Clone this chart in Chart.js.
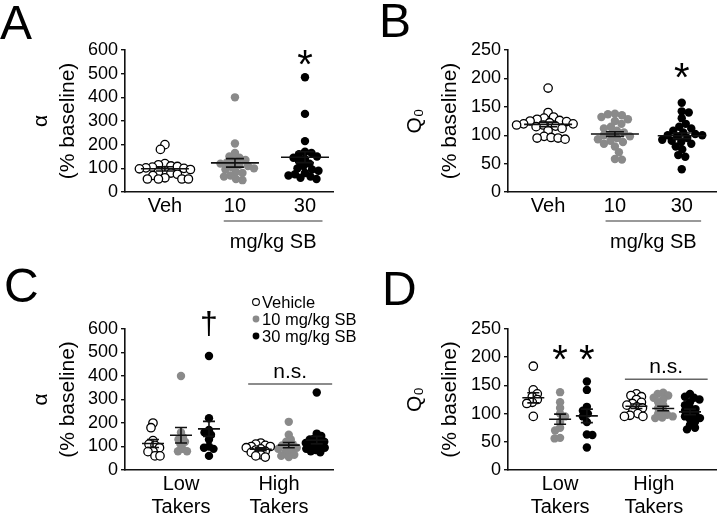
<!DOCTYPE html>
<html><head><meta charset="utf-8">
<script src="https://cdn.jsdelivr.net/npm/chart.js@4.4.1/dist/chart.umd.min.js"></script>
<style>
html,body{margin:0;padding:0;background:#fff;}
#wrap{position:relative;width:722px;height:516px;overflow:hidden;font-family:"Liberation Sans",Arial,sans-serif;}
canvas{position:absolute;}
.letter{position:absolute;font-size:48px;line-height:48px;white-space:nowrap;color:#000;}
</style></head><body>
<div id="wrap">
<canvas id="cA" width="361" height="258" style="left:0;top:0"></canvas>
<canvas id="cB" width="361" height="258" style="left:361px;top:0"></canvas>
<canvas id="cC" width="361" height="258" style="left:0;top:258px"></canvas>
<canvas id="cD" width="361" height="258" style="left:361px;top:258px"></canvas>
<div class="letter" style="left:0;top:-1px">A</div>
<div class="letter" style="left:379px;top:-3px">B</div>
<div class="letter" style="left:4px;top:262px">C</div>
<div class="letter" style="left:382px;top:265px">D</div>
</div>
<script>
const FONT = '"Liberation Sans", Arial, sans-serif';

// ---- labels ----
const doseLabels = ['Veh', '10', '30'];
const takerLabels = [['Low', 'Takers'], ['High', 'Takers']];
const legendLabels = ['Vehicle', '10 mg/kg SB', '30 mg/kg SB'];
const doseUnitLabel = 'mg/kg SB';
const alphaTitle = ['\u03B1', '(% baseline)'];
const q0Title = ['Q\u2080', '(% baseline)'];

// ---- Panel A: alpha, all rats (% baseline) ----
const alphaVeh = [200, 180, 120, 115, 110, 108, 105, 102, 100, 98, 95, 90, 85, 80, 75, 70, 60, 55, 55, 55, 55];
const alpha10  = [400, 205, 165, 150, 145, 135, 130, 125, 120, 115, 110, 105, 100, 95, 85, 80, 70, 65, 55, 50];
const alpha30  = [485, 330, 215, 170, 165, 160, 150, 145, 140, 130, 120, 110, 100, 95, 90, 80, 75, 70, 65, 60, 55];
const alphaMeans = [98, 123, 147];
const alphaSems  = [9, 18, 23];

// ---- Panel B: Q0, all rats ----
const q0Veh = [183, 140, 132, 130, 128, 126, 125, 124, 122, 120, 120, 118, 118, 116, 115, 112, 108, 98, 96, 95, 95, 93];
const q010  = [138, 137, 135, 132, 128, 125, 120, 115, 112, 108, 105, 102, 100, 98, 95, 93, 90, 88, 85, 80, 70, 58, 57];
const q030  = [157, 142, 140, 130, 120, 115, 112, 108, 105, 102, 100, 100, 98, 95, 92, 90, 88, 85, 80, 75, 65, 62, 40];
const q0Means = [119, 102, 99];
const q0Sems  = [4, 4, 5];

// ---- Panel C: alpha by taker group ----
const alphaLowVeh  = [200, 180, 125, 110, 105, 95, 80, 78, 60, 60];
const alphaLow10   = [400, 160, 140, 130, 120, 110, 90, 80, 80];
const alphaLow30   = [485, 220, 170, 160, 150, 130, 100, 95, 90, 60];
const alphaHighVeh = [115, 110, 105, 100, 100, 95, 90, 85, 80, 75, 65, 60, 55];
const alphaHigh10  = [205, 150, 130, 120, 110, 105, 100, 95, 90, 80, 75, 65, 60, 55];
const alphaHigh30  = [330, 155, 145, 135, 130, 125, 120, 115, 110, 105, 100, 95, 90, 85, 80, 75];
const alphaLowMeans  = [113, 148, 175];
const alphaLowSems   = [17, 33, 32];
const alphaHighMeans = [88, 106, 127];
const alphaHighSems  = [6, 11, 16];

// ---- Panel D: Q0 by taker group ----
const q0LowVeh  = [184, 142, 135, 130, 125, 120, 118, 95];
const q0Low10   = [138, 120, 110, 100, 95, 85, 75, 70, 57, 56];
const q0Low30   = [157, 142, 112, 105, 100, 95, 85, 63, 62, 40];
const q0HighVeh = [135, 132, 130, 125, 120, 118, 115, 112, 110, 105, 100, 97, 95, 95];
const q0High10  = [137, 135, 132, 128, 125, 120, 115, 110, 105, 100, 98, 95, 93, 92];
const q0High30  = [135, 130, 128, 125, 120, 115, 110, 108, 105, 100, 98, 95, 92, 90, 85, 80, 75, 72];
const q0LowMeans  = [128, 90, 96];
const q0LowSems   = [9, 9, 12];
const q0HighMeans = [113, 109, 103];
const q0HighSems  = [4, 4, 5];

// ---- styles ----
const GRAY = '#8a8a8a';
const doseStyles = [
  {bg: '#ffffff', border: '#000000', bw: 1.3},
  {bg: GRAY, border: GRAY, bw: 0},
  {bg: '#000000', border: '#000000', bw: 0}
];

function groupsFrom(valueSets, means, sems, positions) {
  return valueSets.map((v, i) => ({values: v, dose: i % 3, mean: means[i], sem: sems[i], pos: positions[i]}));
}

function swarm(chart, groups, diam) {
  const xs = chart.scales.x, ys = chart.scales.y;
  const ppu = xs.getPixelForValue(1) - xs.getPixelForValue(0);
  groups.forEach((g, gi) => {
    const order = g.values.map((v, i) => i).sort((a, b) => g.values[b] - g.values[a]);
    const placed = [];
    const offs = new Array(g.values.length).fill(0);
    order.forEach((i, n) => {
      const py = ys.getPixelForValue(g.values[i]);
      let found = 0;
      outer: for (let s = 0; s < 300; s += 0.5) {
        const cands = s === 0 ? [0] : (n % 2 ? [-s, s] : [s, -s]);
        for (const off of cands) {
          if (placed.every(p => (p.x - off) ** 2 + (p.y - py) ** 2 >= diam * diam)) { found = off; break outer; }
        }
      }
      placed.push({x: found, y: py});
      offs[i] = found;
    });
    chart.data.datasets[gi].data = g.values.map((v, i) => ({x: g.pos + offs[i] / ppu, y: v}));
  });
  chart.update('none');
}

function makePanel(id, o) {
  const groups = o.groups;
  const datasets = groups.map(g => ({
    data: g.values.map(v => ({x: g.pos, y: v})),
    pointRadius: o.r, pointHoverRadius: o.r,
    pointBackgroundColor: doseStyles[g.dose].bg,
    pointBorderColor: doseStyles[g.dose].border,
    pointBorderWidth: doseStyles[g.dose].bw,
    showLine: false
  }));
  const annot = {
    id: 'annot',
    afterDatasetsDraw(chart) {
      const ctx = chart.ctx, xs = chart.scales.x, ys = chart.scales.y;
      ctx.save();
      ctx.strokeStyle = '#111'; ctx.lineWidth = 1.6;
      groups.forEach(g => {
        const x = xs.getPixelForValue(g.pos);
        const ym = ys.getPixelForValue(g.mean);
        const yt = ys.getPixelForValue(g.mean + g.sem);
        const yb = ys.getPixelForValue(g.mean - g.sem);
        ctx.beginPath();
        ctx.moveTo(x - o.meanHalf, ym); ctx.lineTo(x + o.meanHalf, ym);
        ctx.moveTo(x, yt); ctx.lineTo(x, yb);
        ctx.moveTo(x - o.capHalf, yt); ctx.lineTo(x + o.capHalf, yt);
        ctx.moveTo(x - o.capHalf, yb); ctx.lineTo(x + o.capHalf, yb);
        ctx.stroke();
      });
      ctx.restore();
    },
    afterDraw(chart) {
      const ctx = chart.ctx, xs = chart.scales.x, ys = chart.scales.y;
      ctx.save();
      ctx.fillStyle = '#000';
      ctx.textAlign = 'center';
      ctx.textBaseline = 'alphabetic';
      (o.stars || []).forEach(s => {
        const size = 40;
        ctx.font = size + 'px ' + FONT;
        ctx.fillText('*', xs.getPixelForValue(s.x), ys.getPixelForValue(s.y) + 0.57 * size);
      });
      (o.daggers || []).forEach(s => {
        const size = 32;
        ctx.font = size + 'px ' + FONT;
        ctx.fillText('\u2020', xs.getPixelForValue(s.x), ys.getPixelForValue(s.y) + 0.28 * size);
      });
      if (o.ns) {
        const n = o.ns;
        const yl = ys.getPixelForValue(n.y);
        ctx.strokeStyle = '#666'; ctx.lineWidth = 1.6;
        ctx.beginPath();
        ctx.moveTo(xs.getPixelForValue(n.x0), yl); ctx.lineTo(xs.getPixelForValue(n.x1), yl);
        ctx.stroke();
        ctx.font = '21px ' + FONT;
        ctx.fillText('n.s.', (xs.getPixelForValue(n.x0) + xs.getPixelForValue(n.x1)) / 2, yl - 6);
      }
      if (o.unit) {
        const u = o.unit;
        const yl = chart.chartArea.bottom + u.lineDy;
        const x0 = xs.getPixelForValue(u.x0), x1 = xs.getPixelForValue(u.x1);
        ctx.strokeStyle = '#777'; ctx.lineWidth = 1.6;
        ctx.beginPath(); ctx.moveTo(x0, yl); ctx.lineTo(x1, yl); ctx.stroke();
        ctx.font = '20px ' + FONT;
        ctx.fillText(doseUnitLabel, (x0 + x1) / 2, chart.chartArea.bottom + u.textDy);
      }
      if (o.legend) {
        const L = o.legend;
        ctx.font = '16.5px ' + FONT;
        ctx.textAlign = 'left';
        ctx.textBaseline = 'middle';
        legendLabels.forEach((lab, i) => {
          const y = L.y + i * L.dy;
          const st = doseStyles[i];
          ctx.beginPath();
          ctx.arc(L.x, y, 3.4, 0, Math.PI * 2);
          ctx.fillStyle = st.bg; ctx.fill();
          if (st.bw) { ctx.lineWidth = 1.1; ctx.strokeStyle = st.border; ctx.stroke(); }
          ctx.fillStyle = '#000';
          ctx.fillText(lab, L.x + 6, y + 1);
        });
      }
      ctx.restore();
    }
  };
  const chart = new Chart(document.getElementById(id), {
    type: 'scatter',
    data: {datasets},
    options: {
      responsive: false, animation: false, devicePixelRatio: 1, events: [],
      layout: {padding: {left: 0, top: o.padTop, right: o.padRight, bottom: 0}},
      plugins: {legend: {display: false}, tooltip: {enabled: false}},
      scales: {
        x: {
          type: 'linear', min: o.xMin, max: o.xMax,
          grid: {display: false, drawTicks: false},
          border: {display: true, color: '#111', width: 1.6},
          afterBuildTicks: s => { s.ticks = o.xTicks.map(t => ({value: t.value})); },
          afterFit: s => { s.height = o.xAxisH; },
          ticks: {
            callback: (v, i) => o.xTicks[i] ? o.xTicks[i].label : '',
            color: '#000', autoSkip: false, maxRotation: 0, padding: o.xPad,
            font: {family: FONT, size: 20, lineHeight: 1.15}
          }
        },
        y: {
          type: 'linear', min: 0, max: o.yMax,
          grid: {display: true, drawOnChartArea: false, drawTicks: true, tickLength: 4, color: '#111', lineWidth: 1.4},
          border: {display: true, color: '#111', width: 1.6},
          ticks: {stepSize: o.yStep, autoSkip: false, color: '#000', padding: 3, font: {family: FONT, size: 18}},
          afterFit: s => { s.width = o.yAxisW; },
          title: {
            display: true, text: o.yTitle, color: '#000',
            font: {family: FONT, size: 21, lineHeight: o.titleLH + 'px'},
            padding: {top: o.titlePad, bottom: 0}
          }
        }
      }
    },
    plugins: [annot]
  });
  swarm(chart, groups, o.diam);
  return chart;
}

const dosePos = [1, 2, 3];
const takerStride = 3.85;
const takerPos = [1, 2, 3, 1 + takerStride, 2 + takerStride, 3 + takerStride];
const takerTickPos = [2, 5.5];

makePanel('cA', {
  groups: groupsFrom([alphaVeh, alpha10, alpha30], alphaMeans, alphaSems, dosePos),
  xMin: 0.43, xMax: 3.4, xTicks: doseLabels.map((l, i) => ({value: dosePos[i], label: l})),
  yMax: 600, yStep: 100, yTitle: alphaTitle, titleLH: 27, titlePad: 28,
  yAxisW: 125, padTop: 50, padRight: 28, xAxisH: 66, xPad: 3,
  r: 4.2, diam: 6.4, meanHalf: 24, capHalf: 9,
  stars: [{x: 3, y: 578}],
  unit: {x0: 1.84, x1: 3.25, lineDy: 29, textDy: 56}
});

makePanel('cB', {
  groups: groupsFrom([q0Veh, q010, q030], q0Means, q0Sems, dosePos),
  xMin: 0.40, xMax: 3.52, xTicks: doseLabels.map((l, i) => ({value: dosePos[i], label: l})),
  yMax: 250, yStep: 50, yTitle: q0Title, titleLH: 35, titlePad: 37,
  yAxisW: 147, padTop: 50, padRight: 0, xAxisH: 66, xPad: 3,
  r: 4.2, diam: 6.8, meanHalf: 24, capHalf: 9,
  stars: [{x: 3, y: 218}],
  unit: {x0: 1.86, x1: 3.29, lineDy: 29, textDy: 56}
});

makePanel('cC', {
  groups: groupsFrom([alphaLowVeh, alphaLow10, alphaLow30, alphaHighVeh, alphaHigh10, alphaHigh30],
    alphaLowMeans.concat(alphaHighMeans), alphaLowSems.concat(alphaHighSems), takerPos),
  xMin: 0, xMax: 7.43, xTicks: takerLabels.map((l, i) => ({value: takerTickPos[i], label: l})),
  yMax: 600, yStep: 100, yTitle: alphaTitle, titleLH: 27, titlePad: 28,
  yAxisW: 125, padTop: 71, padRight: 28, xAxisH: 46, xPad: 3,
  r: 4.2, diam: 5.0, meanHalf: 11, capHalf: 6,
  daggers: [{x: 3, y: 617}],
  ns: {x0: 4.4, x1: 7.4, y: 366},
  legend: {x: 256, y: 44, dy: 17}
});

makePanel('cD', {
  groups: groupsFrom([q0LowVeh, q0Low10, q0Low30, q0HighVeh, q0High10, q0High30],
    q0LowMeans.concat(q0HighMeans), q0LowSems.concat(q0HighSems), takerPos),
  xMin: 0.055, xMax: 7.84, xTicks: takerLabels.map((l, i) => ({value: takerTickPos[i], label: l})),
  yMax: 250, yStep: 50, yTitle: q0Title, titleLH: 35, titlePad: 37,
  yAxisW: 147, padTop: 71, padRight: 0, xAxisH: 46, xPad: 3,
  r: 4.2, diam: 5.4, meanHalf: 11, capHalf: 6,
  stars: [{x: 2, y: 213}, {x: 3, y: 213}],
  ns: {x0: 4.42, x1: 7.51, y: 161}
});
</script>
</body></html>
